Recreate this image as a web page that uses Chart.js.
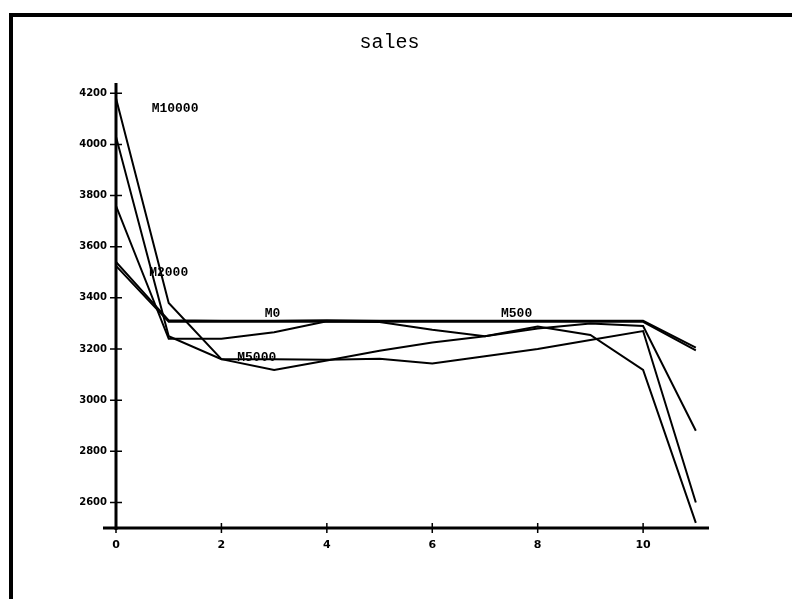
<!DOCTYPE html>
<html>
<head>
<meta charset="utf-8">
<script src="https://cdn.jsdelivr.net/npm/chart.js@4/dist/chart.umd.min.js"></script>
<style>
  body { margin: 0; background: #fff; }
  #wrap { position: relative; width: 792px; height: 599px; }
  #frame { position: absolute; left: 9px; top: 13px; right: 0; bottom: 0;
           border-top: 4px solid #000; border-left: 4px solid #000; }
  canvas { position: absolute; left: 0; top: 0; }
</style>
</head>
<body>
<div id="wrap">
  <div id="frame"></div>
  <canvas id="salesChart" width="792" height="599"></canvas>
</div>
<script>
// x positions (periods)
const periods = [0, 1, 2, 3, 4, 5, 6, 7, 8, 9, 10, 11];

// sales per series
const m10000 = [4180, 3380, 3160, 3118, 3155, 3193, 3225, 3250, 3288, 3255, 3118, 2520];
const m5000  = [4030, 3250, 3160, 3160, 3158, 3162, 3143, 3172, 3200, 3235, 3270, 2600];
const m2000  = [3760, 3240, 3240, 3265, 3308, 3305, 3275, 3250, 3280, 3300, 3290, 2880];
const m0     = [3540, 3312, 3310, 3310, 3312, 3310, 3310, 3310, 3310, 3310, 3310, 3205];
const m500   = [3525, 3306, 3306, 3306, 3306, 3306, 3306, 3306, 3306, 3306, 3306, 3195];

const seriesNames = ['M10000', 'M5000', 'M2000', 'M0', 'M500'];
const seriesValues = [m10000, m5000, m2000, m0, m500];

// where the series names sit, in data units
const labelX = [1.12, 2.67, 1.0, 2.97, 7.6];
const labelY = [4138, 3166, 3500, 3338, 3338];

const xTicks = [0, 2, 4, 6, 8, 10];
const yTicks = [2600, 2800, 3000, 3200, 3400, 3600, 3800, 4000, 4200];

//draw the axes as crossing lines with ticks through them, and the series names
const axesPlugin = {
    id: 'axesPlugin',
    afterDatasetsDraw(chart){
        const ctx = chart.ctx;
        const xs = chart.scales.x;
        const ys = chart.scales.y;
        const area = chart.chartArea;
        ctx.save();
        ctx.strokeStyle = '#000';
        ctx.lineWidth = 3;
        ctx.beginPath();
        ctx.moveTo(area.left - 13, area.bottom);
        ctx.lineTo(area.right, area.bottom);
        ctx.moveTo(area.left, area.top);
        ctx.lineTo(area.left, area.bottom + 2);
        ctx.stroke();
        ctx.lineWidth = 1.5;
        ctx.beginPath();
        xTicks.forEach(function(v){
            const px = xs.getPixelForValue(v);
            ctx.moveTo(px, area.bottom - 5);
            ctx.lineTo(px, area.bottom + 5);
        });
        yTicks.forEach(function(v){
            const py = ys.getPixelForValue(v);
            ctx.moveTo(area.left - 6, py);
            ctx.lineTo(area.left + 6, py);
        });
        ctx.stroke();

        ctx.fillStyle = '#000';
        ctx.font = 'bold 13px "Liberation Mono"';
        ctx.textAlign = 'center';
        ctx.textBaseline = 'middle';
        seriesNames.forEach(function(name, i){
            ctx.fillText(name, xs.getPixelForValue(labelX[i]), ys.getPixelForValue(labelY[i]));
        });
        ctx.restore();
    }
};

const ctx = document.getElementById('salesChart');
new Chart(ctx, {
    type: 'line',
    data: {
        datasets: seriesValues.map(function(vals, i){
            return {
                label: seriesNames[i],
                data: periods.map(function(p, j){ return {x: p, y: vals[j]}; }),
                borderColor: '#000',
                borderWidth: 2,
                pointRadius: 0,
                tension: 0,
                fill: false
            };
        })
    },
    options: {
        responsive: false,
        animation: false,
        layout: { padding: { left: 70, right: 83, top: 23, bottom: 40 } },
        plugins: {
            legend: { display: false },
            tooltip: { enabled: false },
            title: {
                display: true,
                text: 'sales',
                color: '#000',
                font: { family: 'Liberation Mono', size: 20, weight: 'normal' },
                padding: { top: 8, bottom: 28 }
            }
        },
        scales: {
            x: {
                type: 'linear',
                min: 0,
                max: 11.25,
                afterBuildTicks: function(scale){
                    scale.ticks = xTicks.map(function(v){ return {value: v}; });
                },
                afterFit: function(scale){ scale.height = 31; },
                grid: { display: false },
                border: { display: false },
                ticks: {
                    color: '#000',
                    padding: 3,
                    maxRotation: 0,
                    callback: function(v){ return String(v); },
                    font: { family: 'DejaVu Sans', size: 11, weight: 'bold' }
                }
            },
            y: {
                type: 'linear',
                min: 2500,
                max: 4240,
                afterBuildTicks: function(scale){
                    scale.ticks = yTicks.map(function(v){ return {value: v}; });
                },
                afterFit: function(scale){ scale.width = 46; },
                grid: { display: false },
                border: { display: false },
                ticks: {
                    color: '#000',
                    padding: 1,
                    callback: function(v){ return String(v); },
                    font: { family: 'DejaVu Sans', size: 10, weight: 'bold' }
                }
            }
        }
    },
    plugins: [axesPlugin]
});
</script>
</body>
</html>
